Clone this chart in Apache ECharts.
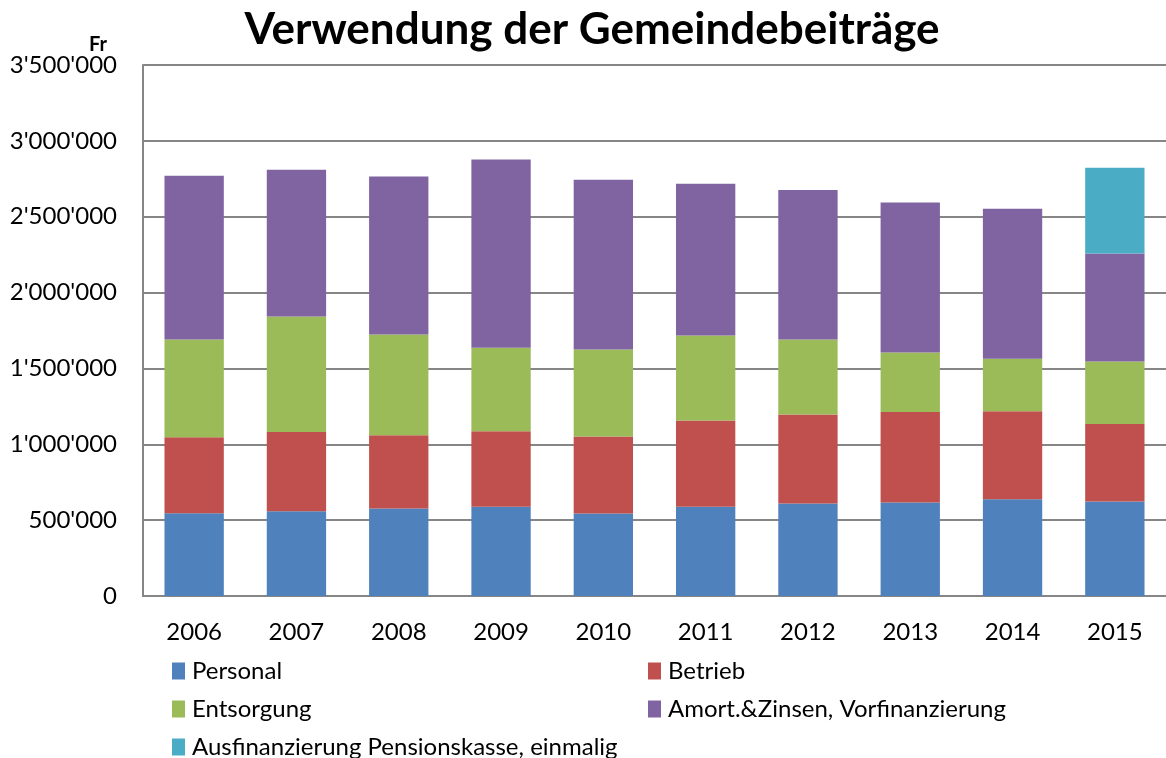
<!DOCTYPE html>
<html>
<head>
<meta charset="utf-8">
<script src="https://cdn.jsdelivr.net/npm/echarts@6/dist/echarts.min.js"></script>
<style>
  html, body { margin: 0; padding: 0; background: #fff; }
  #chart { width: 1166px; height: 758px; }
</style>
</head>
<body>
<div id="chart"></div>
<script>
// Jahre und Beträge (Fr)
var jahre = ['2006', '2007', '2008', '2009', '2010', '2011', '2012', '2013', '2014', '2015'];
var personal = [546000, 559000, 577000, 588000, 544000, 588000, 610000, 616000, 638000, 623000];
var betrieb = [500000, 522000, 482000, 498000, 507000, 568000, 587000, 597000, 579000, 511000];
var entsorgung = [645000, 761000, 665000, 550000, 574000, 561000, 494000, 392000, 347000, 412000];
var amort = [1079000, 967000, 1041000, 1241000, 1118000, 1000000, 985000, 989000, 989000, 711000];
var pension = [0, 0, 0, 0, 0, 0, 0, 0, 0, 565000];
var namen = ['Personal', 'Betrieb', 'Entsorgung', 'Amort.&Zinsen, Vorfinanzierung', 'Ausfinanzierung Pensionskasse, einmalig'];

var myChart = echarts.init(document.getElementById('chart'));
var schrift = 'Lato, "Open Sans", sans-serif';

function legende(name, left, top) {
    return {
        data: [name],
        left: left,
        top: top,
        itemWidth: 13,
        itemHeight: 17,
        itemGap: 4,
        icon: 'rect',
        textStyle: { fontFamily: schrift, fontSize: 24, color: '#000', padding: [0, 0, 0, 2] }
    };
}

var option = {
    color: ['#4f81bd', '#c0504d', '#9bbb59', '#8064a2', '#4bacc6'],
    animation: false,
    title: [{
        text: 'Verwendung der Gemeindebeiträge',
        left: 587,
        textAlign: 'center',
        top: 3,
        textStyle: { fontFamily: schrift, fontSize: 44, fontWeight: 'bold', color: '#000' }
    }, {
        text: 'Fr',
        left: 84,
        top: 30,
        textStyle: { fontFamily: schrift, fontSize: 20, fontWeight: 'bold', color: '#000' }
    }],
    legend: [
        legende(namen[0], 167, 654),
        legende(namen[1], 643, 654),
        legende(namen[2], 167, 692),
        legende(namen[3], 643, 692),
        legende(namen[4], 167, 730)
    ],
    grid: {
        left: 143,
        right: 0,
        top: 65,
        bottom: 162,
        containLabel: false
    },
    xAxis: {
        type: 'category',
        data: jahre,
        axisLine: { lineStyle: { color: '#868686', width: 2 } },
        axisTick: { show: false },
        axisLabel: { fontFamily: schrift, fontSize: 24, color: '#000', margin: 24 }
    },
    yAxis: {
        type: 'value',
        min: 0,
        max: 3500000,
        interval: 500000,
        axisLine: { show: true, lineStyle: { color: '#868686', width: 2 } },
        axisTick: { show: false },
        splitLine: { lineStyle: { color: '#868686', width: 2 } },
        axisLabel: {
            fontFamily: schrift,
            fontSize: 24,
            color: '#000',
            margin: 26,
            formatter: function (v) {
                return String(v).replace(/\B(?=(\d{3})+(?!\d))/g, "'");
            }
        }
    },
    series: [
        { name: namen[0], type: 'bar', stack: 'a', barWidth: '58%', data: personal },
        { name: namen[1], type: 'bar', stack: 'a', data: betrieb },
        { name: namen[2], type: 'bar', stack: 'a', data: entsorgung },
        { name: namen[3], type: 'bar', stack: 'a', data: amort },
        { name: namen[4], type: 'bar', stack: 'a', data: pension }
    ]
};
myChart.setOption(option);
</script>
</body>
</html>
